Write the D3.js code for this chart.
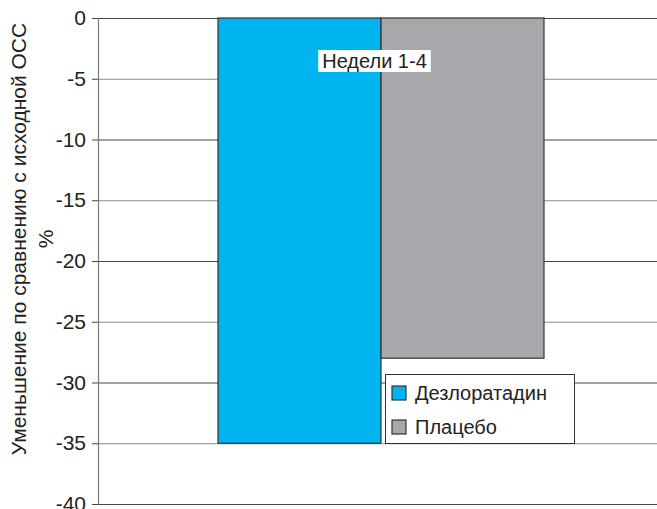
<!DOCTYPE html>
<html><head><meta charset="utf-8">
<script src="https://cdn.jsdelivr.net/npm/d3@7"></script>
<style>body{margin:0;background:#fff}svg{display:block}text{font-family:"Liberation Sans",Arial,sans-serif}</style>
</head><body>
<script>
const series = ["Дезлоратадин", "Плацебо"];
const values = [-35, -28];
const colors = ["#00b5ef", "#a7a8ac"];
const yTicks = [0, -5, -10, -15, -20, -25, -30, -35, -40];
const category = "Недели 1-4";
const yTitle = ["Уменьшение по сравнению с исходной ОСС", "%"];

const W = 657, H = 509;
const svg = d3.select("body").append("svg").attr("width", W).attr("height", H);
const y = d3.scaleLinear().domain([-40, 0]).range([504, 18]);
const x = d3.scaleBand().domain(series).range([218, 544]).padding(0);
const axisX = 98;

// gridlines
svg.append("g").selectAll("line").data(yTicks).join("line")
  .attr("x1", axisX).attr("x2", W).attr("y1", d => y(d) + 0.5).attr("y2", d => y(d) + 0.5)
  .attr("stroke", (d,i) => i % 2 ? "#8a8a8a" : "#444").attr("stroke-width", 1.2);

// axis
const ax = svg.append("g").attr("transform", `translate(${axisX},0)`)
  .call(d3.axisLeft(y).tickValues(yTicks).tickSize(6).tickPadding(6).tickFormat(d => d === 0 ? "0" : "-" + Math.abs(d)));
ax.select(".domain").attr("stroke", "#777").attr("stroke-width", 1.2);
ax.selectAll(".tick line").attr("stroke", "#444");
ax.selectAll(".tick text").attr("font-size", 21).attr("fill", "#222");

// bars
svg.append("g").selectAll("rect").data(series).join("rect")
  .attr("x", d => x(d)).attr("width", x.bandwidth())
  .attr("y", y(0)).attr("height", (d,i) => y(values[i]) - y(0))
  .attr("fill", (d,i) => colors[i]).attr("stroke", "#333").attr("stroke-width", 1.2);

// category label
const lbl = svg.append("g");
const cx = 374.5, cy = 61;
const t = lbl.append("text").attr("x", cx).attr("y", cy).attr("text-anchor", "middle")
  .attr("dominant-baseline", "central").attr("font-size", 20).attr("fill", "#222").text(category);
const bb = t.node().getBBox();
lbl.insert("rect", "text").attr("x", bb.x - 4).attr("y", cy - 11).attr("width", bb.width + 8).attr("height", 22).attr("fill", "#fff");

// legend
const lg = svg.append("g");
lg.append("rect").attr("x", 385.5).attr("y", 374.5).attr("width", 189).attr("height", 69)
  .attr("fill", "#fff").attr("stroke", "#333").attr("stroke-width", 1);
series.forEach((s, i) => {
  const ly = 393 + i * 34;
  lg.append("rect").attr("x", 392).attr("y", ly - 7).attr("width", 14).attr("height", 14)
    .attr("fill", colors[i]).attr("stroke", "#333").attr("stroke-width", 1.2);
  lg.append("text").attr("x", 415).attr("y", ly).attr("dominant-baseline", "central")
    .attr("font-size", 20).attr("fill", "#222").text(s);
});

// y title
const tt = svg.append("text").attr("transform", "translate(18,239) rotate(-90)")
  .attr("text-anchor", "middle").attr("font-size", 21).attr("fill", "#222");
yTitle.forEach((l, i) => tt.append("tspan").attr("x", 0).attr("dy", i ? 27 : 0).attr("dominant-baseline", "central").text(l));
</script>
</body></html>
